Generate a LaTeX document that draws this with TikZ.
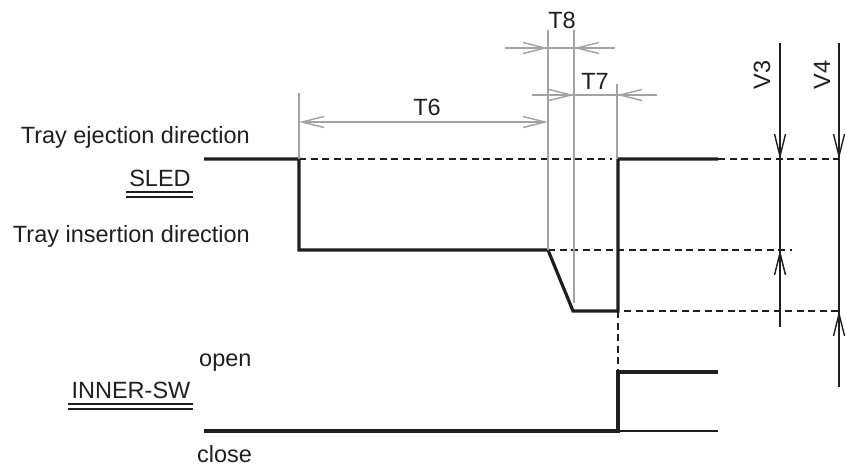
\documentclass[tikz,border=0pt]{standalone}
\usepackage{fontspec}
\setmainfont{Liberation Sans}
\usetikzlibrary{arrows.meta, positioning, calc}
\definecolor{ink}{gray}{0.12}
\definecolor{dimgray}{gray}{0.64}
\tikzset{
    timing/.style={x=1pt, y=-1pt, font=\fontsize{23.5}{28}\selectfont, text=ink},
    wave/.style={draw=ink, line width=3.2pt, line join=miter},
    thinwave/.style={draw=ink, line width=1.5pt},
    level/.style={draw=ink, line width=1.4pt, dash pattern=on 7pt off 4.5pt},
    extline/.style={draw=dimgray, line width=1.4pt},
    vdim/.style={draw=ink, line width=1.4pt},
    dimtip/.style={-{Straight Barb[length=22pt, width=11pt]}},
    tag/.style={inner sep=0pt, anchor=base},
    % double underline below a signal name
    dunder/.style={draw=ink, line width=1.3pt},
}

\begin{document}
\begin{tikzpicture}[timing]
    \useasboundingbox (0,0) rectangle (847,466);

    % signal names and level labels
    \node[tag, anchor=base east] (eject)  at (250,143) {Tray ejection direction};
    \node[tag]                   (sled)   at (160,186) {SLED};
    \node[tag, anchor=base east] (insert) at (250,242) {Tray insertion direction};
    \node[tag, anchor=base west] (open)   at (199,366) {open};
    \node[tag]                   (inner)  at (131,398) {INNER-SW};
    \node[tag, anchor=base west] (close)  at (197,462) {close};
    \draw[dunder] ($(sled.base west)+(-3,6)$)   -- ($(sled.base east)+(2,6)$);
    \draw[dunder] ($(sled.base west)+(-3,11)$)  -- ($(sled.base east)+(2,11)$);
    \draw[dunder] ($(inner.base west)+(-3,6)$)  -- ($(inner.base east)+(2,6)$);
    \draw[dunder] ($(inner.base west)+(-3,11)$) -- ($(inner.base east)+(2,11)$);

    % SLED waveform
    \coordinate (s0) at (204,159);
    \coordinate (s1) at (299,159);
    \coordinate (s2) at (299,250);
    \coordinate (s3) at (548,250);
    \coordinate (s4) at (573,311);
    \coordinate (s5) at (618,311);
    \coordinate (s6) at (618,159);
    \coordinate (s7) at (718,159);
    \draw[wave] (s0) -- (s1) -- (s2) -- (s3) -- (s4) -- (s5) -- (s6) -- (s7);

    % INNER-SW waveform
    \coordinate (w0) at (204,431);
    \coordinate (w1) at (618,431);
    \coordinate (w2) at (618,372);
    \coordinate (w3) at (718,372);
    \coordinate (w4) at (718,431);
    \draw[wave] (w0) -- (w1) -- (w2) -- (w3);
    \draw[thinwave] (w1) -- (w4);

    % dashed reference levels
    \coordinate (hiend)  at (840,159);
    \coordinate (midend) at (792,250);
    \coordinate (loend)  at (840,311);
    \draw[level] (s1) -- ($(s6)+(-6,0)$);
    \draw[level] (s7) -- (hiend);
    \draw[level] (s3) -- (midend);
    \draw[level] ($(s5)+(6,0)$) -- (loend);
    \draw[level] (s5) -- (w2);

    % extension lines
    \coordinate (e6)  at (299,93);
    \coordinate (e8a) at (548,30);
    \coordinate (e8b) at (574,30);
    \coordinate (e8c) at (574,303);
    \coordinate (e7)  at (617,84);
    \draw[extline] (e6) -- (s1);
    \draw[extline] (e8a) -- (s3);
    \draw[extline] (e8b) -- (e8c);
    \draw[extline] (e7) -- (617,159);

    % T6
    \draw[extline, {Straight Barb[length=22pt, width=11pt]}-{Straight Barb[length=22pt, width=11pt]}]
        (299,122) -- (548,122);
    \node[tag] (t6) at (427,115) {T6};

    % T8
    \draw[extline] (505,48) -- (615,48);
    \draw[extline, dimtip] (505,48) -- (548,48);
    \draw[extline, dimtip] (615,48) -- (574,48);
    \node[tag] (t8) at (562,28) {T8};

    % T7
    \draw[extline] (532,95) -- (657,95);
    \draw[extline, dimtip] (532,95) -- (574,95);
    \draw[extline, dimtip] (657,95) -- (617,95);
    \node[tag] (t7) at (595,89) {T7};

    % V3
    \draw[vdim] (780,43) -- (780,327);
    \draw[vdim, dimtip] (780,120) -- (780,159);
    \draw[vdim, dimtip] (780,290) -- (780,250);
    \node[inner sep=0pt, rotate=90] (v3) at (762,75) {V3};

    % V4
    \draw[vdim] (839,43) -- (839,387);
    \draw[vdim, dimtip] (839,120) -- (839,159);
    \draw[vdim, dimtip] (839,350) -- (839,311);
    \node[inner sep=0pt, rotate=90] (v4) at (822,75) {V4};
\end{tikzpicture}
\end{document}
